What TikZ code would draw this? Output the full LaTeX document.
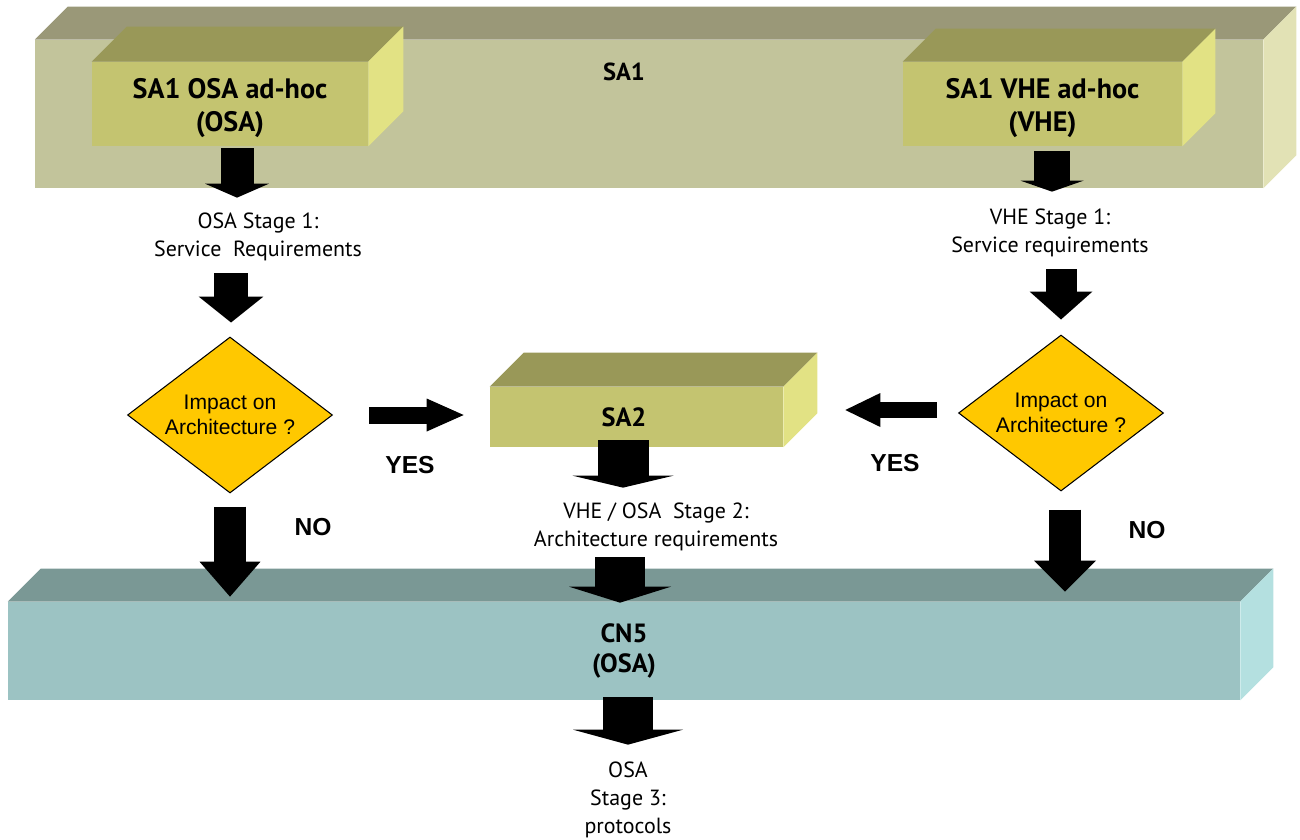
\documentclass[tikz,border=0pt]{standalone}
\usepackage{fontspec}
\setmainfont{PT Sans}
\newfontfamily\arialfont{Liberation Sans}
\usetikzlibrary{arrows.meta,shapes.geometric,calc,positioning}

\definecolor{saunoF}{HTML}{C2C49B}
\definecolor{saunoT}{HTML}{9A9878}
\definecolor{saunoL}{HTML}{E2E2B5}
\definecolor{gruppoF}{HTML}{C4C470}
\definecolor{gruppoT}{HTML}{999858}
\definecolor{gruppoL}{HTML}{E2E284}
\definecolor{cnF}{HTML}{9CC3C3}
\definecolor{cnT}{HTML}{7A9895}
\definecolor{cnL}{HTML}{B4E0E0}
\definecolor{rombogiallo}{HTML}{FFC800}

\tikzset{
	faccia/.style={inner sep=0pt, align=center, font=\fontsize{16}{19}\selectfont\bfseries},
	testo/.style={inner sep=0pt, align=center, font=\fontsize{12.5}{16}\selectfont},
	rombo/.style={diamond, draw=black, line width=0.6pt, fill=rombogiallo, aspect=1.31,
		inner sep=0pt, minimum width=4.1cm, minimum height=3.12cm, align=center,
		font=\arialfont\fontsize{12}{14}\selectfont},
	scelta/.style={font=\arialfont\bfseries\fontsize{14}{16}\selectfont},
	freccia/.style n args={3}{line width=#1, -{Triangle[width=#2, length=#3, line width=0pt]}},
}

\begin{document}
\begin{tikzpicture}[x=0.02cm, y=-0.02cm]
	% Faccia superiore e laterale di un blocco (nodo, profondita', colori)
	\def\cubo#1#2#3#4{%
		\fill[#3] (#1.north west) -- ++(#2,-#2) -- ($(#1.north east)+(#2,-#2)$) -- (#1.north east) -- cycle;
		\fill[#4] (#1.north east) -- ++(#2,-#2) -- ($(#1.south east)+(#2,-#2)$) -- (#1.south east) -- cycle;}
	
	\useasboundingbox (0,0) rectangle (1300,839);
	
	% --- Blocco SA1 ---
	\node[faccia, fill=saunoF, minimum width=24.56cm, minimum height=2.96cm] (sa1) at (649,114) {};
	\cubo{sa1}{33}{saunoT}{saunoL}
	\node[faccia, font=\fontsize{14}{16}\selectfont\bfseries] (sa1t) at (624,72) {SA1};
	
	\node[faccia, fill=gruppoF, minimum width=5.52cm, minimum height=1.68cm,
		label={[faccia, yshift=-0.08cm]center:SA1 OSA ad-hoc\\(OSA)}] (osaadhoc) at (230,104) {};
	\cubo{osaadhoc}{35}{gruppoT}{gruppoL}
	\node[faccia, fill=gruppoF, minimum width=5.58cm, minimum height=1.68cm,
		label={[faccia, yshift=-0.08cm]center:SA1 VHE ad-hoc\\(VHE)}] (vheadhoc) at (1042.5,104) {};
	\cubo{vheadhoc}{33}{gruppoT}{gruppoL}
	
	% --- Blocco SA2 ---
	\node[faccia, fill=gruppoF, minimum width=5.86cm, minimum height=1.2cm,
		label={[faccia, xshift=-0.25cm, font=\fontsize{15}{18}\selectfont\bfseries]center:SA2}] (sa2) at (636.5,417) {};
	\cubo{sa2}{34}{gruppoT}{gruppoL}
	
	% --- Blocco CN5 ---
	\node[faccia, fill=cnF, minimum width=24.64cm, minimum height=1.96cm,
		font=\fontsize{15}{17.5}\selectfont\bfseries] (cn5) at (624,651) {CN5\\(OSA)};
	\cubo{cn5}{33}{cnT}{cnL}
	
	% --- Testi degli stage ---
	\node[testo, minimum height=1.56cm] (st1osa) at (258,237) {OSA Stage 1:\\Service\ \ Requirements};
	\node[testo, minimum height=1.56cm] (st1vhe) at (1050,233) {VHE Stage 1:\\Service requirements};
	\node[testo, minimum height=1.56cm] (st2) at (656,527) {VHE / OSA\ \ Stage 2:\\Architecture requirements};
	\node[testo, minimum height=2.2cm] (st3) at (628,800) {OSA\\Stage 3:\\protocols};
	
	% --- Decisioni ---
	\node[rombo] (dsx) at (230,415) {Impact on\\Architecture ?};
	\node[rombo] (ddx) at (1061,413) {Impact on\\Architecture ?};
	
	\node[scelta] (yessx) at (410,465) {YES};
	\node[scelta] (yesdx) at (895,463) {YES};
	\node[scelta] (nosx) at (313,527) {NO};
	\node[scelta] (nodx) at (1147,530) {NO};
	
	% --- Frecce ---
	\draw[freccia={0.66cm}{1.28cm}{0.28cm}] ([xshift=0.14cm,yshift=-0.04cm]osaadhoc.south) -- ([xshift=0.14cm]osaadhoc.south |- st1osa.north);
	\draw[freccia={0.72cm}{1.26cm}{0.22cm}] ([xshift=0.19cm,yshift=-0.1cm]vheadhoc.south) -- ([xshift=0.19cm,yshift=0.04cm]vheadhoc.south |- st1vhe.north);
	\draw[freccia={0.68cm}{1.3cm}{0.52cm}] ([xshift=0.02cm,yshift=0.06cm]dsx.north |- st1osa.south) -- ([xshift=0.02cm,yshift=0.28cm]dsx.north);
	\draw[freccia={0.62cm}{1.26cm}{0.56cm}] ([yshift=0.06cm]ddx.north |- st1vhe.south) -- ([yshift=0.3cm]ddx.north);
	% NO
	\draw[freccia={0.64cm}{1.22cm}{0.7cm}] ([yshift=-0.26cm]dsx.south) -- ([yshift=0.1cm]dsx.south |- cn5.north);
	\draw[freccia={0.64cm}{1.24cm}{0.62cm}] ([xshift=0.08cm,yshift=-0.36cm]ddx.south) -- ([xshift=0.08cm,yshift=0.2cm]ddx.south |- cn5.north);
	% YES
	\draw[freccia={0.34cm}{0.66cm}{0.74cm}] ([xshift=0.72cm]dsx.east) -- ([xshift=-0.52cm]dsx.east -| sa2.west);
	\draw[freccia={0.32cm}{0.68cm}{0.7cm}] ([xshift=-0.42cm,yshift=0.06cm]ddx.west) -- ([xshift=1.24cm,yshift=0.06cm]ddx.west -| sa2.east);
	% SA2 -> CN5 -> protocolli
	\draw[freccia={1.02cm}{2.02cm}{0.24cm}] ([xshift=-0.27cm,yshift=0.14cm]sa2.south) -- ([xshift=-0.27cm]sa2.south |- st2.north);
	\draw[freccia={1.0cm}{2.04cm}{0.32cm}] ([xshift=-0.08cm,yshift=0.18cm]cn5.north |- st2.south) -- ([xshift=-0.08cm,yshift=-0.02cm]cn5.north);
	\draw[freccia={1.0cm}{2.2cm}{0.3cm}] ([xshift=0.08cm,yshift=0.06cm]cn5.south) -- ([xshift=0.08cm]cn5.south |- st3.north);
\end{tikzpicture}
\end{document}
